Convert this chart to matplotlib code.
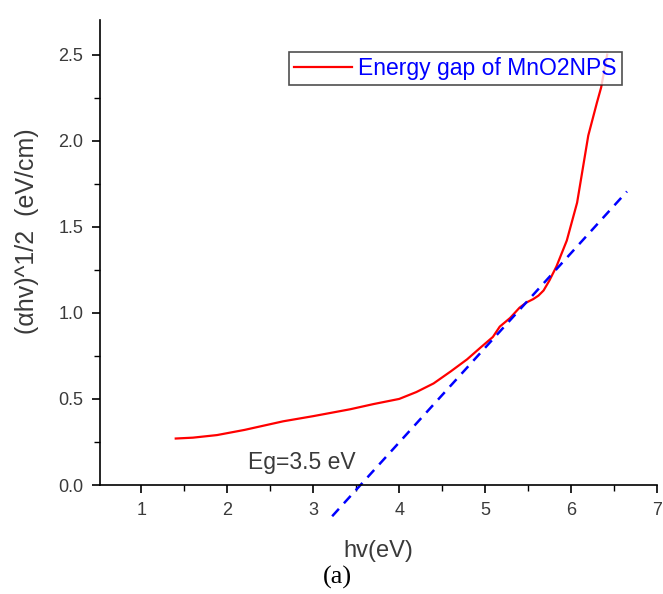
import matplotlib
matplotlib.use('Agg')
import matplotlib.pyplot as plt
from matplotlib.ticker import MultipleLocator

plt.rcParams['font.family'] = ['Liberation Sans', 'DejaVu Sans']

# photon energy (eV) and (alpha*hv)^1/2
hv = [1.40, 1.60, 1.88, 2.20, 2.65, 3.00, 3.43, 3.70, 4.00, 4.20, 4.40,
      4.60, 4.79, 4.95, 5.09, 5.17, 5.29, 5.40, 5.48, 5.56, 5.62, 5.68,
      5.75, 5.83, 5.95, 6.07, 6.14, 6.20, 6.30, 6.35, 6.42]
ahv = [0.27, 0.275, 0.29, 0.32, 0.37, 0.40, 0.44, 0.47, 0.50, 0.54, 0.59,
       0.66, 0.73, 0.80, 0.86, 0.92, 0.97, 1.03, 1.06, 1.08, 1.10, 1.13,
       1.19, 1.27, 1.42, 1.64, 1.85, 2.03, 2.22, 2.31, 2.50]

# linear fit of the absorption edge
fit_x = [3.22, 6.65]
fit_slope = 0.55
eg = 3.55

fig = plt.figure(figsize=(6.63, 5.94), dpi=100)
ax = fig.add_axes([0.151, 0.1835, 0.840, 0.7825])

ax.plot(hv, ahv, color='red', lw=1.6, label='Energy gap of MnO2NPS')
ax.plot(fit_x, [fit_slope * (x - eg) for x in fit_x], color='blue',
        lw=1.8, ls=(0, (4, 3)), clip_on=False)

ax.set_xlim(0.52, 7)
ax.set_ylim(0, 2.7)
ax.xaxis.set_major_locator(MultipleLocator(1))
ax.xaxis.set_minor_locator(MultipleLocator(0.5))
ax.yaxis.set_minor_locator(MultipleLocator(0.25))
ax.set_yticks([0, 0.5, 1.0, 1.5, 2.0, 2.5])

for side in ['top', 'right']:
    ax.spines[side].set_visible(False)
for side in ['left', 'bottom']:
    ax.spines[side].set_linewidth(1.2)

ax.tick_params(which='major', direction='out', length=6, width=1.2,
               labelsize=13, labelcolor='#3a3a3a', pad=6)
ax.tick_params(which='minor', direction='out', length=4, width=1.0)

ax.set_xlabel('hv(eV)', fontsize=17, color='#3a3a3a', labelpad=15)
ax.set_ylabel('(\u03b1hv)^1/2  (eV/cm)', fontsize=18, color='#3a3a3a',
              labelpad=14, y=0.545)

ax.text(2.24, 0.13, 'Eg=3.5 eV', fontsize=16.5, color='#3a3a3a',
        ha='left', va='center')

leg = ax.legend(loc='upper right', bbox_to_anchor=(0.937, 0.932),
                fontsize=16.5, frameon=True, fancybox=False,
                handlelength=2.5, borderpad=0.22, handletextpad=0.3,
                borderaxespad=0)
leg.get_frame().set_edgecolor('#222222')
leg.get_frame().set_linewidth(1.2)
for t in leg.get_texts():
    t.set_color('blue')

fig.text(0.509, 0.028, '(a)', fontsize=19, family='Liberation Serif',
         ha='center', va='center')

fig.savefig('out.png', dpi=100)
